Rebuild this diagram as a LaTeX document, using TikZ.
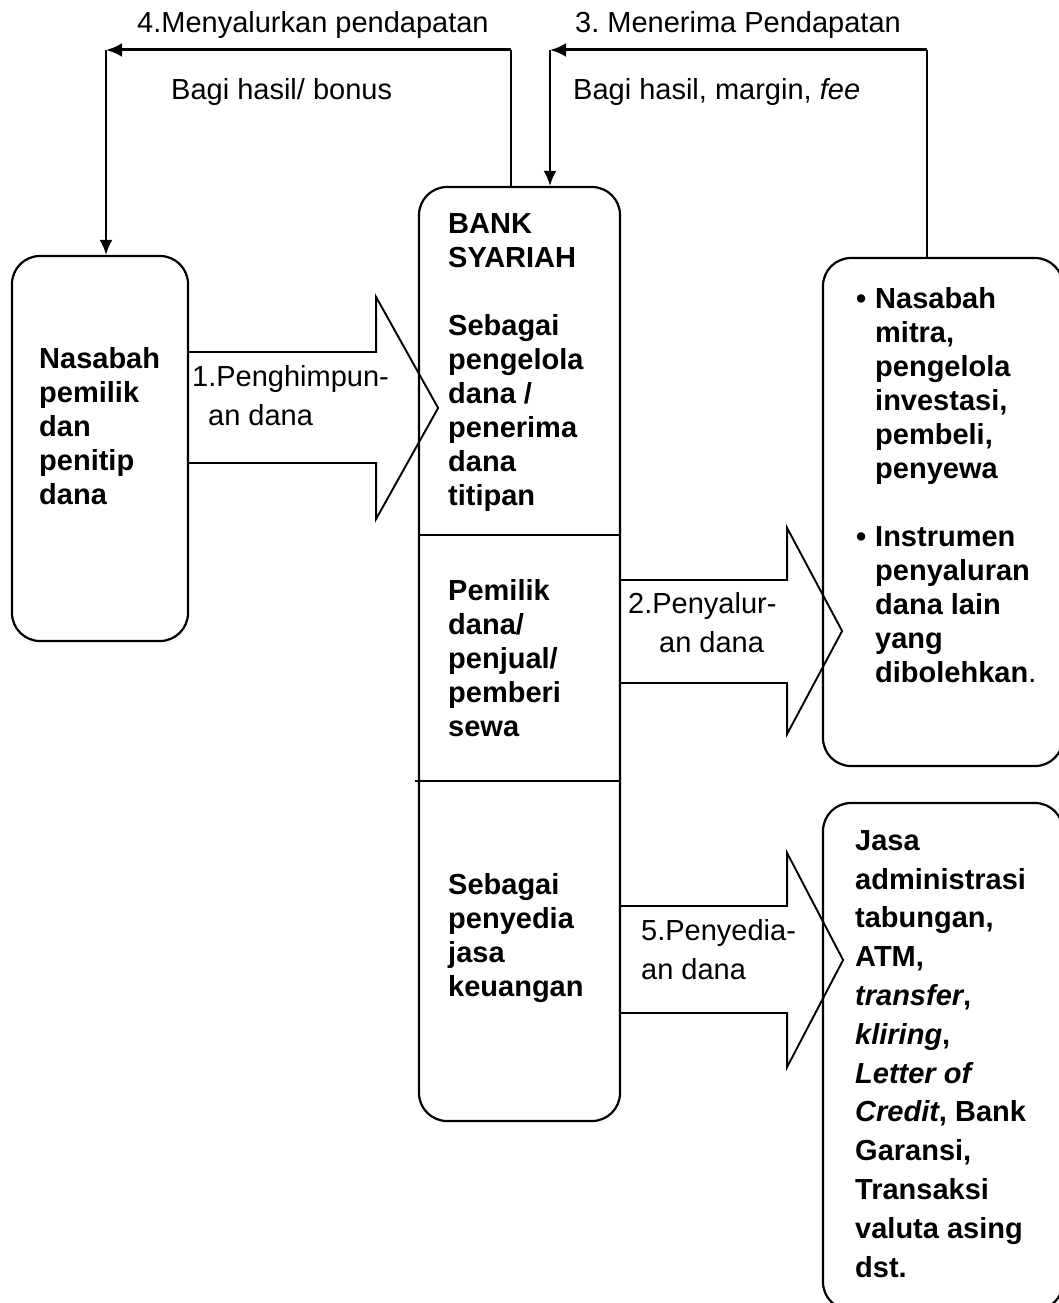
\documentclass[tikz,border=0pt]{standalone}
\usepackage{fontspec}
\setmainfont{Liberation Sans}
\usetikzlibrary{arrows.meta}
\frenchspacing

\begin{document}
\begin{tikzpicture}[
            x=1pt, y=-1pt,
            roundbox/.style={rectangle, draw=black, line width=2.2pt, rounded corners=28pt},
            boldtext/.style={anchor=north west, inner sep=0pt, align=left, font=\fontsize{29}{34}\selectfont\bfseries},
            labeltext/.style={anchor=north west, inner sep=0pt, align=left, font=\fontsize{29}{39}\selectfont},
            toptext/.style={anchor=base west, inner sep=0pt, font=\fontsize{29}{34}\selectfont},
            blockarrow/.style={draw=black, line width=1.9pt, line join=miter},
            riser/.style={line width=1.6pt},
            flowarrow/.style={line width=3pt, -{Latex[length=16pt, width=14pt]}},
            droparrow/.style={line width=2.3pt, -{Latex[length=15pt, width=13pt]}},
            ]
            \useasboundingbox (0,0) rectangle (1059,1303);
            \clip (0,0) rectangle (1059,1303);

            \node[roundbox, minimum width=176pt, minimum height=385pt] (nasabah) at (100,448.5) {};
            \node[roundbox, minimum width=201pt, minimum height=934pt] (bank)    at (519.5,654) {};
            \node[roundbox, minimum width=240pt, minimum height=508pt] (mitra)   at (943,512) {};
            \node[roundbox, minimum width=240pt, minimum height=507pt] (jasa)    at (943,1056.5) {};

            \draw[line width=2.2pt] ([yshift=-349pt]bank.north west) -- ([yshift=-349pt]bank.north east);
            \draw[line width=2.2pt] ([yshift=-595pt, xshift=-3pt]bank.north west) -- ([yshift=-595pt]bank.north east);

            \node[boldtext]  (tnasabah) at (39,344.2)  {\strut Nasabah\\pemilik\\dan\\penitip\\dana};
            \node[boldtext]  (tbank)    at (448,209.2) {\strut BANK\\SYARIAH\\[34pt]Sebagai\\pengelola\\dana /\\penerima\\dana\\titipan};
            \node[boldtext]  (tpemilik) at (448,576.2) {\strut Pemilik\\dana/\\penjual/\\pemberi\\sewa};
            \node[boldtext]  (tpenyedia) at (448,870.2) {\strut Sebagai\\penyedia\\jasa\\keuangan};
            \node[boldtext]  (tmitra)   at (875,284.2) {\strut\llap{\textbullet\hspace{9pt}}Nasabah\\mitra,\\pengelola\\investasi,\\pembeli,\\penyewa\\[34pt]\llap{\textbullet\hspace{9pt}}Instrumen\\penyaluran\\dana lain\\yang\\dibolehkan{\mdseries .}};
            \node[boldtext, font=\fontsize{29}{38.8}\selectfont\bfseries] (tjasa) at (855,822.84) {\strut Jasa\\administrasi\\tabungan,\\ATM,\\\textit{transfer},\\\textit{kliring},\\\textit{Letter of}\\\textit{Credit}, Bank\\Garansi,\\Transaksi\\valuta asing\\dst.};

            \draw[blockarrow] ([yshift=96.5pt]nasabah.east) -- ++(187,0) -- ++(0,-55) -- ++(62,111) -- ++(-62,111) -- ++(0,-56) -- ++(-187,0);
            \draw[blockarrow] ([yshift=74pt]bank.east) -- ++(166,0) -- ++(0,-52) -- ++(55,103) -- ++(-55,103) -- ++(0,-51) -- ++(-166,0);
            \draw[blockarrow] ([yshift=-252pt]bank.east) -- ++(166,0) -- ++(0,-53) -- ++(56,107) -- ++(-56,107) -- ++(0,-54) -- ++(-166,0);

            \node[labeltext] (lbl1) at (192,358.7) {\strut 1.Penghimpun-\\\hspace*{16pt}an dana};
            \node[labeltext] (lbl2) at (628,585.7) {\strut 2.Penyalur-\\\hspace*{31pt}an dana};
            \node[labeltext] (lbl5) at (641,912.7) {\strut 5.Penyedia-\\an dana};

            \coordinate (c4)  at (106,50);
            \coordinate (c4r) at (511,50);
            \coordinate (c3)  at (550,50);
            \coordinate (c3r) at (927,50);

            \draw[riser] (bank.north -| c4r) -- (c4r);
            \draw[flowarrow] (c4r) -- (c4);
            \draw[droparrow] (c4) -- (c4 |- nasabah.north);
            \draw[riser] (mitra.north -| c3r) -- (c3r);
            \draw[flowarrow] (c3r) -- (c3);
            \draw[droparrow] (c3) -- (c3 |- bank.north);

            \node[toptext] (lbl4)   at (137,33)  {4.Menyalurkan pendapatan};
            \node[toptext] (bonus)  at (171,100) {Bagi hasil/ bonus};
            \node[toptext] (lbl3)   at (575,33)  {3. Menerima Pendapatan};
            \node[toptext] (margin) at (573,100) {Bagi hasil, margin, \textit{fee}};
        \end{tikzpicture}
\end{document}
